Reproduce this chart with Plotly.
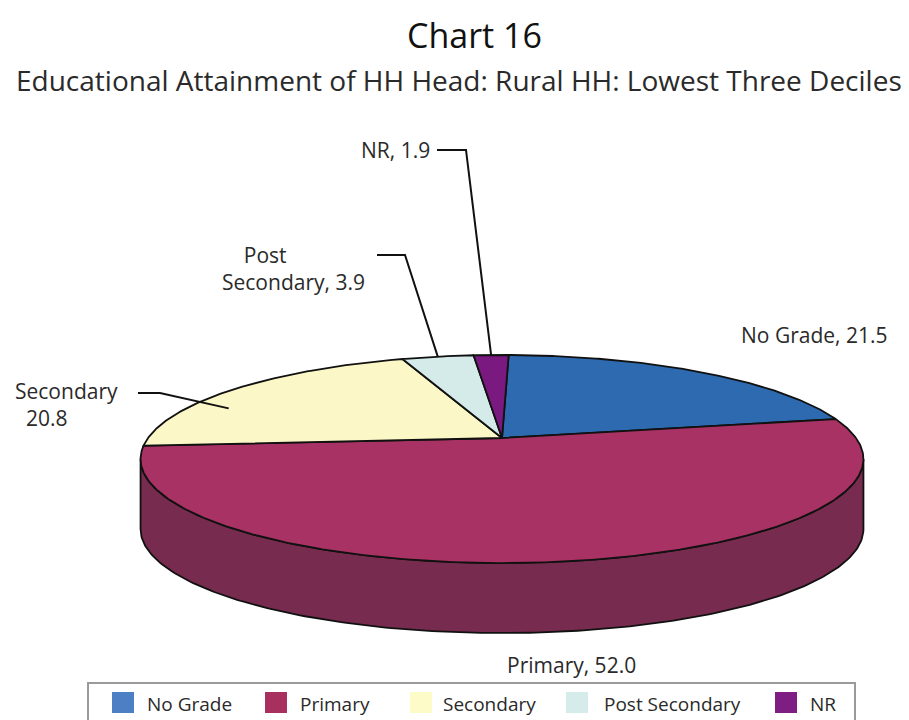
import numpy as np
import plotly.graph_objects as go

# ---------------- data ----------------
categories = ["No Grade", "Primary", "Secondary", "Post Secondary", "NR"]
values = [21.5, 52.0, 20.8, 3.9, 1.9]

# ---------------- style ----------------
top_colors = ["#2D6AAF", "#A83263", "#FBF7C6", "#D5EBEA", "#7A1A80"]
side_colors = ["#1E4B7E", "#772B4E", "#C9C49A", "#A9BDBC", "#55125A"]
legend_colors = ["#4C7FC3", "#A8305F", "#FDFBC8", "#D6ECEB", "#7E1E82"]
FONT = "Open Sans"
TXT = "#2a2a2a"

W, H = 909, 720
OFF = 8                      # page body margin offset (pixels)
CX, CY = 502, 438            # pie apex (pixels)
A, B, K = 354, 99.8, 0.202   # radii and perspective factor
DEPTH = 70                   # side wall height (pixels)
START = 1.3                  # start angle (deg clockwise from 12 o'clock)


def proj(theta_deg, r=1.0):
    t = np.radians(theta_deg)
    u = r * np.sin(t)
    v = r * np.cos(t)
    den = 1 + K * v
    return CX + A * u / den, CY - B * v / den


total = sum(values)
spans = [v / total * 360 for v in values]
starts = list(np.cumsum([START] + spans[:-1]))
ends = [s + sp for s, sp in zip(starts, spans)]
mid = [s + sp / 2 for s, sp in zip(starts, spans)]

fig = go.Figure()

# side wall (visible front part between the silhouette points)
vis_a = np.degrees(np.arccos(-K))
vis_b = 360 - vis_a
for i in range(len(values)):
    a0 = max(starts[i], vis_a)
    a1 = min(ends[i], vis_b)
    if a1 <= a0:
        continue
    th = np.linspace(a0, a1, 200)
    xs, ys = proj(th)
    px = list(xs) + list(xs[::-1]) + [xs[0]]
    py = list(ys) + list((ys + DEPTH)[::-1]) + [ys[0]]
    fig.add_trace(go.Scatter(x=px, y=py, mode="lines", fill="toself",
                             fillcolor=side_colors[i],
                             line=dict(color="#111", width=1.8),
                             hoverinfo="skip", showlegend=False))

# top face slices
for i in range(len(values)):
    th = np.linspace(starts[i], ends[i], max(int(spans[i] * 2), 8))
    xs, ys = proj(th)
    px = [CX] + list(xs) + [CX]
    py = [CY] + list(ys) + [CY]
    fig.add_trace(go.Scatter(x=px, y=py, mode="lines", fill="toself",
                             fillcolor=top_colors[i],
                             line=dict(color="#111", width=1.8),
                             name=categories[i],
                             hovertemplate=f"{categories[i]}: {values[i]:.1f}<extra></extra>",
                             showlegend=False))

# ---------------- labels & leaders ----------------
ann = []


def add_text(text, x, y, xanchor="left", size=21, align="left"):
    ann.append(dict(text=text, x=x, y=y, xref="x", yref="y", showarrow=False,
                    xanchor=xanchor, yanchor="middle", align=align,
                    font=dict(family=FONT, size=size, color=TXT)))


NB = "\u00a0"
add_text(f"{categories[0]}, {values[0]:.1f}", 739, 335)
add_text(f"{categories[1]}, {values[1]:.1f}", 505, 665)
add_text(f"{categories[2]}<br>{NB*2}{values[2]:.1f}", 13, 404)
pw = categories[3].split()
add_text(f"{NB*4}{pw[0]}<br>{pw[1]}, {values[3]:.1f}", 220, 268)
add_text(f"{categories[4]}, {values[4]:.1f}", 432, 150, xanchor="right")


def leader(x0, y0, x1, pt):
    fig.add_trace(go.Scatter(x=[x0, x1, pt[0]], y=[y0, y0, pt[1]], mode="lines",
                             line=dict(color="#111", width=2),
                             hoverinfo="skip", showlegend=False))


leader(437, 150, 466, proj(mid[4]))
leader(377, 255, 405, proj(mid[3]))
leader(138, 393, 160, proj(mid[2] - 12, 0.88))

# titles
ann.append(dict(text="Chart 16", x=474, y=35, xref="x", yref="y",
                showarrow=False, xanchor="center", yanchor="middle",
                font=dict(family=FONT, size=34, color="#111")))
ann.append(dict(text="Educational Attainment of HH Head: Rural HH: Lowest Three Deciles",
                x=459, y=80, xref="x", yref="y", showarrow=False,
                xanchor="center", yanchor="middle",
                font=dict(family=FONT, size=28, color=TXT)))

# ---------------- legend (box, swatches, texts) ----------------
shapes = [dict(type="rect", xref="x", yref="y", x0=88, y0=683, x1=855, y1=735,
               line=dict(color="#9a9a9a", width=2), fillcolor="white", layer="below")]
sw_x = [112, 265, 410, 566, 775]
tx_x = [145, 298, 441, 602, 808]
for i in range(len(categories)):
    shapes.append(dict(type="rect", xref="x", yref="y", x0=sw_x[i], x1=sw_x[i] + 22,
                       y0=692, y1=713, line=dict(width=0),
                       fillcolor=legend_colors[i]))
    ann.append(dict(text=categories[i], x=tx_x[i], y=704, xref="x", yref="y",
                    showarrow=False, xanchor="left", yanchor="middle",
                    font=dict(family=FONT, size=19, color=TXT)))

fig.update_layout(
    width=W, height=H, autosize=False,
    margin=dict(l=0, r=0, t=0, b=0, pad=0, autoexpand=False),
    paper_bgcolor="white", plot_bgcolor="white",
    xaxis=dict(range=[OFF, W + OFF], visible=False, fixedrange=True),
    yaxis=dict(range=[H + OFF, OFF], visible=False, fixedrange=True),
    annotations=ann, shapes=shapes,
    showlegend=False,
)

fig.write_html("out.html")
